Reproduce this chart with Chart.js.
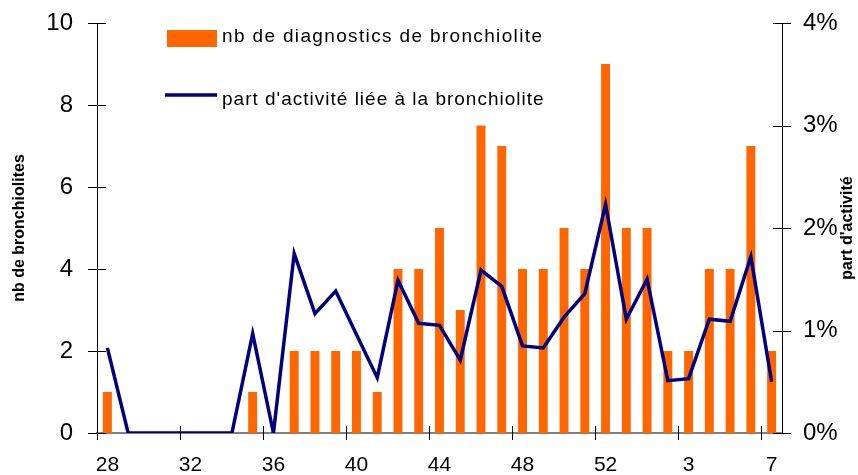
<!DOCTYPE html>
<html lang="fr">
<head>
    <meta charset="UTF-8">
    <title>Bronchiolite</title>
    <style>
        body {
            margin: 0;
            padding: 0;
            background-color: #fff;
        }
        .chart-container {
            position: relative;
            width: 858px;
            height: 475px;
        }
    </style>
</head>
<body>
    <div class="chart-container">
        <canvas id="myChart" width="858" height="475"></canvas>
    </div>

    <script src="https://cdn.jsdelivr.net/npm/chart.js"></script>
    <script>
        // semaines 28 -> 53 puis 1 -> 7
        var weeks = ['28', '29', '30', '31', '32', '33', '34', '35', '36', '37', '38', '39', '40',
                     '41', '42', '43', '44', '45', '46', '47', '48', '49', '50', '51', '52', '53',
                     '1', '2', '3', '4', '5', '6', '7'];
        var nbDiagnostics = [1, 0, 0, 0, 0, 0, 0, 1, 0, 2, 2, 2, 2,
                             1, 4, 4, 5, 3, 7.5, 7, 4, 4, 5, 4, 9, 5,
                             5, 2, 2, 4, 4, 7, 2];
        // part d'activité en %
        var partActivite = [0.83, 0, 0, 0, 0, 0, 0, 0.97, 0, 1.75, 1.165, 1.385, 0.96,
                            0.54, 1.49, 1.07, 1.05, 0.71, 1.59, 1.43, 0.85, 0.83, 1.13, 1.36, 2.23, 1.11,
                            1.50, 0.51, 0.53, 1.11, 1.09, 1.72, 0.50];
        var seriesLabels = ['nb de diagnostics de bronchiolite', "part d'activité liée à la bronchiolite"];
        var leftTitle = 'nb de bronchiolites';
        var rightTitle = "part d'activité";

        var FONT = "'Liberation Sans', Arial, sans-serif";
        Chart.defaults.font.family = FONT;
        Chart.defaults.color = '#000';

        var orange = '#FF6600';
        var navy = '#000080';

        // ticks en croix, titre de droite et légende dans le graphe
        var decorPlugin = {
            id: 'decor',
            afterDraw: function(chart) {
                var ctx = chart.ctx;
                var area = chart.chartArea;
                var xs = chart.scales.x, y = chart.scales.y, y1 = chart.scales.y1;
                ctx.save();
                ctx.strokeStyle = '#000';
                ctx.lineWidth = 1;
                ctx.beginPath();
                y.ticks.forEach(function(t) {
                    var py = Math.round(y.getPixelForValue(t.value)) + 0.5;
                    ctx.moveTo(area.left - 9, py);
                    ctx.lineTo(area.left + 9, py);
                });
                y1.ticks.forEach(function(t) {
                    var py = Math.round(y1.getPixelForValue(t.value)) + 0.5;
                    ctx.moveTo(area.right - 9, py);
                    ctx.lineTo(area.right + 9, py);
                });
                var half = (xs.getPixelForValue(1) - xs.getPixelForValue(0)) / 2;
                for (var i = 0; i < weeks.length; i += 4) {
                    var px = Math.round(xs.getPixelForValue(i) - half) + 0.5;
                    ctx.moveTo(px, area.bottom - 7);
                    ctx.lineTo(px, area.bottom + 7);
                }
                ctx.stroke();

                // titre axe de droite
                ctx.save();
                ctx.translate(848, (area.top + area.bottom) / 2);
                ctx.rotate(-Math.PI / 2);
                ctx.font = 'bold 16px ' + FONT;
                ctx.fillStyle = '#000';
                ctx.textAlign = 'center';
                ctx.textBaseline = 'middle';
                ctx.fillText(rightTitle, 0, 0);
                ctx.restore();

                // légende
                ctx.fillStyle = orange;
                ctx.fillRect(167, 30, 50, 17);
                ctx.strokeStyle = navy;
                ctx.lineWidth = 3.5;
                ctx.beginPath();
                ctx.moveTo(165, 95);
                ctx.lineTo(217, 95);
                ctx.stroke();
                ctx.fillStyle = '#000';
                ctx.font = '19px ' + FONT;
                ctx.textAlign = 'left';
                ctx.textBaseline = 'alphabetic';
                ctx.letterSpacing = '1.35px';
                ctx.fillText(seriesLabels[0], 222, 42);
                ctx.letterSpacing = '1px';
                ctx.fillText(seriesLabels[1], 222, 105);
                ctx.restore();
            }
        };

        function fixWidth(w) {
            return function(s) {
                s.width = w;
                s.paddingTop = 0;
                s.paddingBottom = 0;
            };
        }

        var ctx = document.getElementById('myChart').getContext('2d');
        new Chart(ctx, {
            type: 'bar',
            data: {
                labels: weeks,
                datasets: [{
                    label: seriesLabels[0],
                    data: nbDiagnostics,
                    backgroundColor: orange,
                    barPercentage: 0.43,
                    categoryPercentage: 1,
                    yAxisID: 'y',
                    order: 2
                }, {
                    type: 'line',
                    label: seriesLabels[1],
                    data: partActivite,
                    borderColor: navy,
                    borderWidth: 3.5,
                    pointRadius: 0,
                    tension: 0,
                    fill: false,
                    yAxisID: 'y1',
                    order: 1
                }]
            },
            options: {
                responsive: false,
                animation: false,
                layout: { padding: { top: 23, left: 0, right: 0, bottom: 0 } },
                plugins: {
                    legend: { display: false },
                    tooltip: { enabled: false }
                },
                scales: {
                    x: {
                        offset: true,
                        grid: { display: false, drawTicks: false },
                        border: { color: '#808080', width: 2 },
                        ticks: {
                            autoSkip: false,
                            maxRotation: 0,
                            padding: 20,
                            font: { size: 21 },
                            callback: function(v, i) { return i % 4 === 0 ? weeks[i] : ''; }
                        },
                        afterFit: function(s) { s.height = 42; s.paddingLeft = 0; s.paddingRight = 0; }
                    },
                    y: {
                        position: 'left',
                        min: 0,
                        max: 10,
                        grid: { display: false, drawTicks: false },
                        border: { color: '#000', width: 1 },
                        ticks: { stepSize: 2, padding: 24, font: { size: 24 } },
                        title: {
                            display: true,
                            text: leftTitle,
                            font: { size: 16, weight: 'bold' },
                            padding: { top: 10, bottom: 0 }
                        },
                        afterFit: fixWidth(97)
                    },
                    y1: {
                        position: 'right',
                        min: 0,
                        max: 4,
                        grid: { display: false, drawTicks: false },
                        border: { color: '#000', width: 1 },
                        ticks: {
                            stepSize: 1,
                            padding: 21,
                            font: { size: 24 },
                            callback: function(v) { return v + '%'; }
                        },
                        afterFit: fixWidth(76)
                    }
                }
            },
            plugins: [decorPlugin]
        });
    </script>
</body>
</html>
